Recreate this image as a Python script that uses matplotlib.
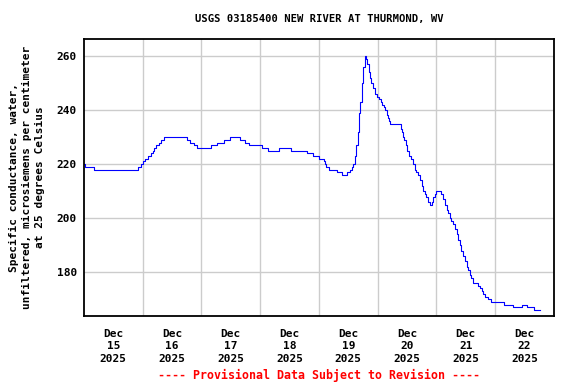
import matplotlib
matplotlib.use("Agg")
import matplotlib.pyplot as plt

# hours since Dec 15 2025 00:00 where the value changes (step series)
hours = [0, 0.4, 4.0, 22.0, 23.1, 24.1, 25.1, 26.2, 27.2, 28.0, 28.8, 29.6, 30.5, 31.6, 32.6,
         42.0, 43.3, 44.8, 46.2, 51.7, 54.3, 57.4, 59.5, 63.9, 65.6, 67.4, 72.9, 75.2, 79.6,
         84.4, 91.3, 93.5, 95.9, 97.9, 98.3, 99.0, 100.0, 103.4, 105.2, 107.6, 108.6, 109.3,
         109.9, 110.6, 111.3, 111.8, 112.4, 112.9, 113.5, 114.0, 114.6, 115.4, 115.8, 116.3,
         116.9, 117.4, 118.1, 118.8, 119.7, 120.5, 121.2, 121.8, 122.5, 123.0, 123.6, 124.1,
         124.6, 125.2, 129.3, 129.8, 130.4, 130.9, 131.5, 132.1, 132.7, 133.5, 134.4, 135.1,
         135.8, 136.5, 137.2, 137.9, 138.5, 139.2, 139.9, 140.6, 141.3, 142.0, 142.6, 143.3,
         144.0, 146.0, 146.7, 147.4, 148.1, 148.8, 149.4, 150.1, 150.8, 151.5, 152.2, 152.8,
         153.5, 154.2, 154.9, 155.6, 156.3, 156.9, 157.6, 158.3, 159.0, 161.0, 161.7, 162.4,
         163.1, 163.8, 165.1, 166.1, 171.6, 175.3, 178.8, 180.8, 183.8, 186.2]
conductance = [220, 219, 218, 219, 220, 221, 222, 223, 224, 225, 226, 227, 228, 229, 230,
               229, 228, 227, 226, 227, 228, 229, 230, 229, 228, 227, 226, 225, 226,
               225, 224, 223, 222, 221, 220, 219, 218, 217, 216, 217, 218, 219,
               220, 223, 227, 232, 239, 243, 250, 256, 260, 259, 257, 254,
               252, 250, 248, 246, 245, 244, 243, 242, 241, 240, 238, 237,
               236, 235, 233, 232, 230, 229, 227, 225, 223, 222, 220, 218,
               217, 216, 214, 212, 210, 209, 208, 206, 205, 206, 208, 209,
               210, 209, 207, 205, 203, 202, 200, 199, 198, 196, 194, 192,
               190, 188, 186, 184, 182, 181, 179, 178, 176, 175, 174, 173,
               172, 171, 170, 169, 168, 167, 168, 167, 166, 166]

day_labels = ["Dec\n15\n2025", "Dec\n16\n2025", "Dec\n17\n2025", "Dec\n18\n2025",
              "Dec\n19\n2025", "Dec\n20\n2025", "Dec\n21\n2025", "Dec\n22\n2025"]
y_ticks = [180, 200, 220, 240, 260]

mono = "DejaVu Sans Mono"

fig = plt.figure(figsize=(5.76, 3.84), dpi=100)
ax = fig.add_axes([0.1458, 0.177, 0.816, 0.7207])

ax.plot(hours, conductance, drawstyle="steps-post", color="#0000ff", linewidth=0.8)

ax.set_xlim(0, 192)
ax.set_ylim(163.8, 266.2)

# gridlines at midnight, labels at noon
ax.set_xticks([24 * i for i in range(1, 8)])
ax.set_xticklabels([])
ax.set_xticks([24 * i + 12 for i in range(8)], minor=True)
ax.set_xticklabels(day_labels, minor=True, fontfamily=mono, fontweight="bold",
                   fontsize=8, linespacing=1.35)
ax.set_yticks(y_ticks)
ax.set_yticklabels([str(v) for v in y_ticks], fontfamily=mono, fontweight="bold", fontsize=8)
ax.tick_params(axis="both", which="both", length=0)
ax.tick_params(axis="x", which="minor", pad=9)
ax.tick_params(axis="y", pad=5)

ax.grid(True, which="major", color="#cccccc", linewidth=1.0)
ax.set_axisbelow(True)
for s in ax.spines.values():
    s.set_linewidth(1.3)
    s.set_color("black")

fig.text(0.554, 1 - 19 / 384, "USGS 03185400 NEW RIVER AT THURMOND, WV",
         ha="center", va="center", fontfamily=mono, fontweight="bold", fontsize=7.6)
fig.text(27 / 576, 1 - 177.5 / 384,
         "Specific conductance, water,\nunfiltered, microsiemens per centimeter\nat 25 degrees Celsius",
         ha="center", va="center", rotation=90, multialignment="center",
         fontfamily=mono, fontweight="bold", fontsize=8, linespacing=1.35)
fig.text(319 / 576, 1 - 375 / 384, "---- Provisional Data Subject to Revision ----",
         ha="center", va="center", color="red", fontfamily=mono, fontweight="bold", fontsize=8.4)

fig.savefig("out.png", dpi=100)
